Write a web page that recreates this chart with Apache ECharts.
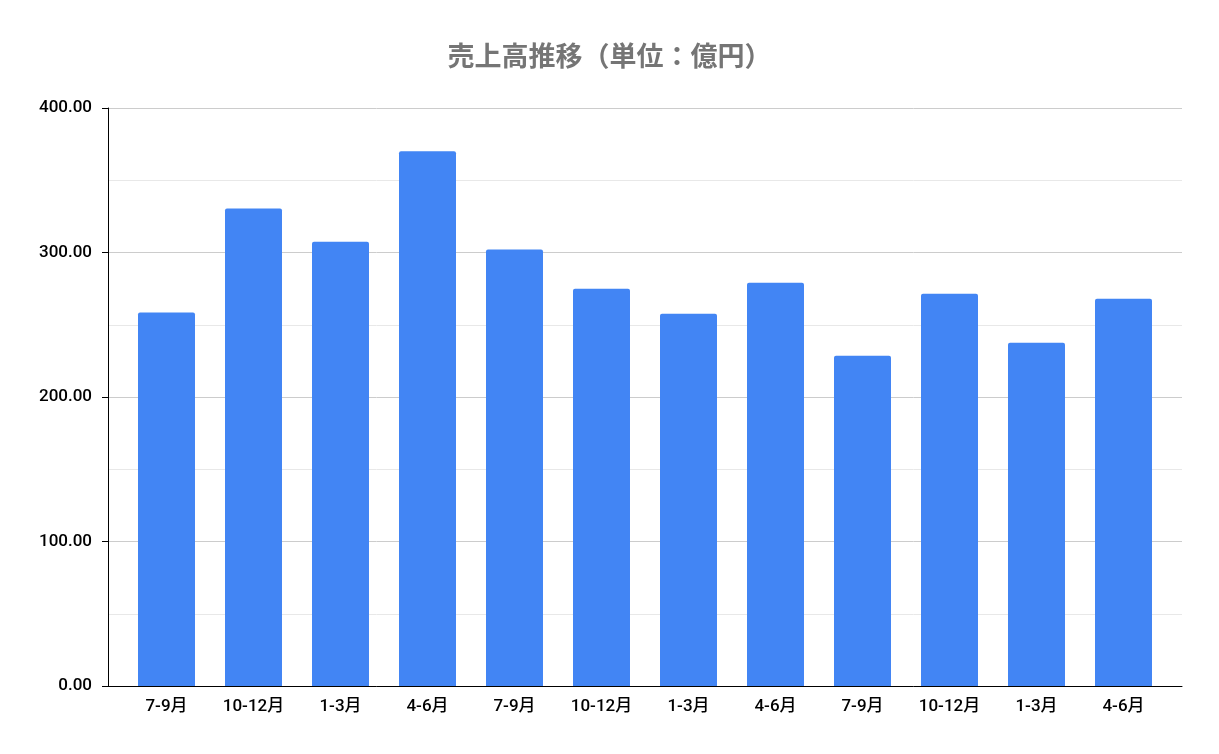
<!DOCTYPE html>
<html><head><meta charset="utf-8">
<script src="https://cdn.jsdelivr.net/npm/echarts@6/dist/echarts.min.js"></script>
<style>html,body{margin:0;padding:0;background:#fff}#c{width:1219px;height:754px}</style>
</head><body><div id="c"></div>
<script>
const title = '売上高推移（単位：億円）';
const categories = ['7-9月','10-12月','1-3月','4-6月','7-9月','10-12月','1-3月','4-6月','7-9月','10-12月','1-3月','4-6月'];
const sales = [258.4, 330.4, 307.5, 370.0, 302.0, 275.0, 257.6, 279.1, 228.5, 271.4, 237.5, 268.0];
const yTicks = [0, 100, 200, 300, 400];

const yMin = yTicks[0], yMax = yTicks[yTicks.length-1];
const chart = echarts.init(document.getElementById('c'), null, {renderer:'canvas'});
chart.setOption({
  animation:false,
  backgroundColor:'#fff',
  title:{text:title,left:'center',top:37,textStyle:{fontFamily:'Noto Sans CJK JP',fontSize:27,fontWeight:'bold',color:'#757575'}},
  grid:[
    {left:108,right:37,top:108,bottom:68,containLabel:false},
    {left:123,right:52,top:108,bottom:68,containLabel:false}
  ],
  xAxis:[
    {type:'category',gridIndex:0,data:categories,
      axisLine:{lineStyle:{color:'#000',width:1}},axisTick:{show:false},axisLabel:{show:false},splitLine:{show:false}},
    {type:'category',gridIndex:1,data:categories,
      axisLine:{show:false},axisTick:{show:false},splitLine:{show:false},
      axisLabel:{color:'#000',fontSize:17,fontFamily:'Roboto, "Noto Sans CJK JP"',fontWeight:500,margin:12}}
  ],
  yAxis:[
    {type:'value',gridIndex:0,min:yMin,max:yMax,interval:100,
      axisLine:{show:true,lineStyle:{color:'#000',width:1}},
      axisTick:{show:true,length:6,lineStyle:{color:'#000'}},
      axisLabel:{color:'#000',fontSize:17,fontFamily:'Roboto',fontWeight:500,margin:16,formatter:v=>v.toFixed(2)},
      splitLine:{lineStyle:{color:'#cccccc',width:1}},
      minorTick:{show:false,splitNumber:2},
      minorSplitLine:{show:true,lineStyle:{color:'#e8e8e8',width:1}}},
    {type:'value',gridIndex:1,min:yMin,max:yMax,interval:100,show:false,splitLine:{show:false}}
  ],
  series:[{type:'bar',xAxisIndex:1,yAxisIndex:1,data:sales,barWidth:'65.5%',itemStyle:{color:'#4285f4',borderRadius:[2,2,0,0]}}]
});
</script></body></html>
